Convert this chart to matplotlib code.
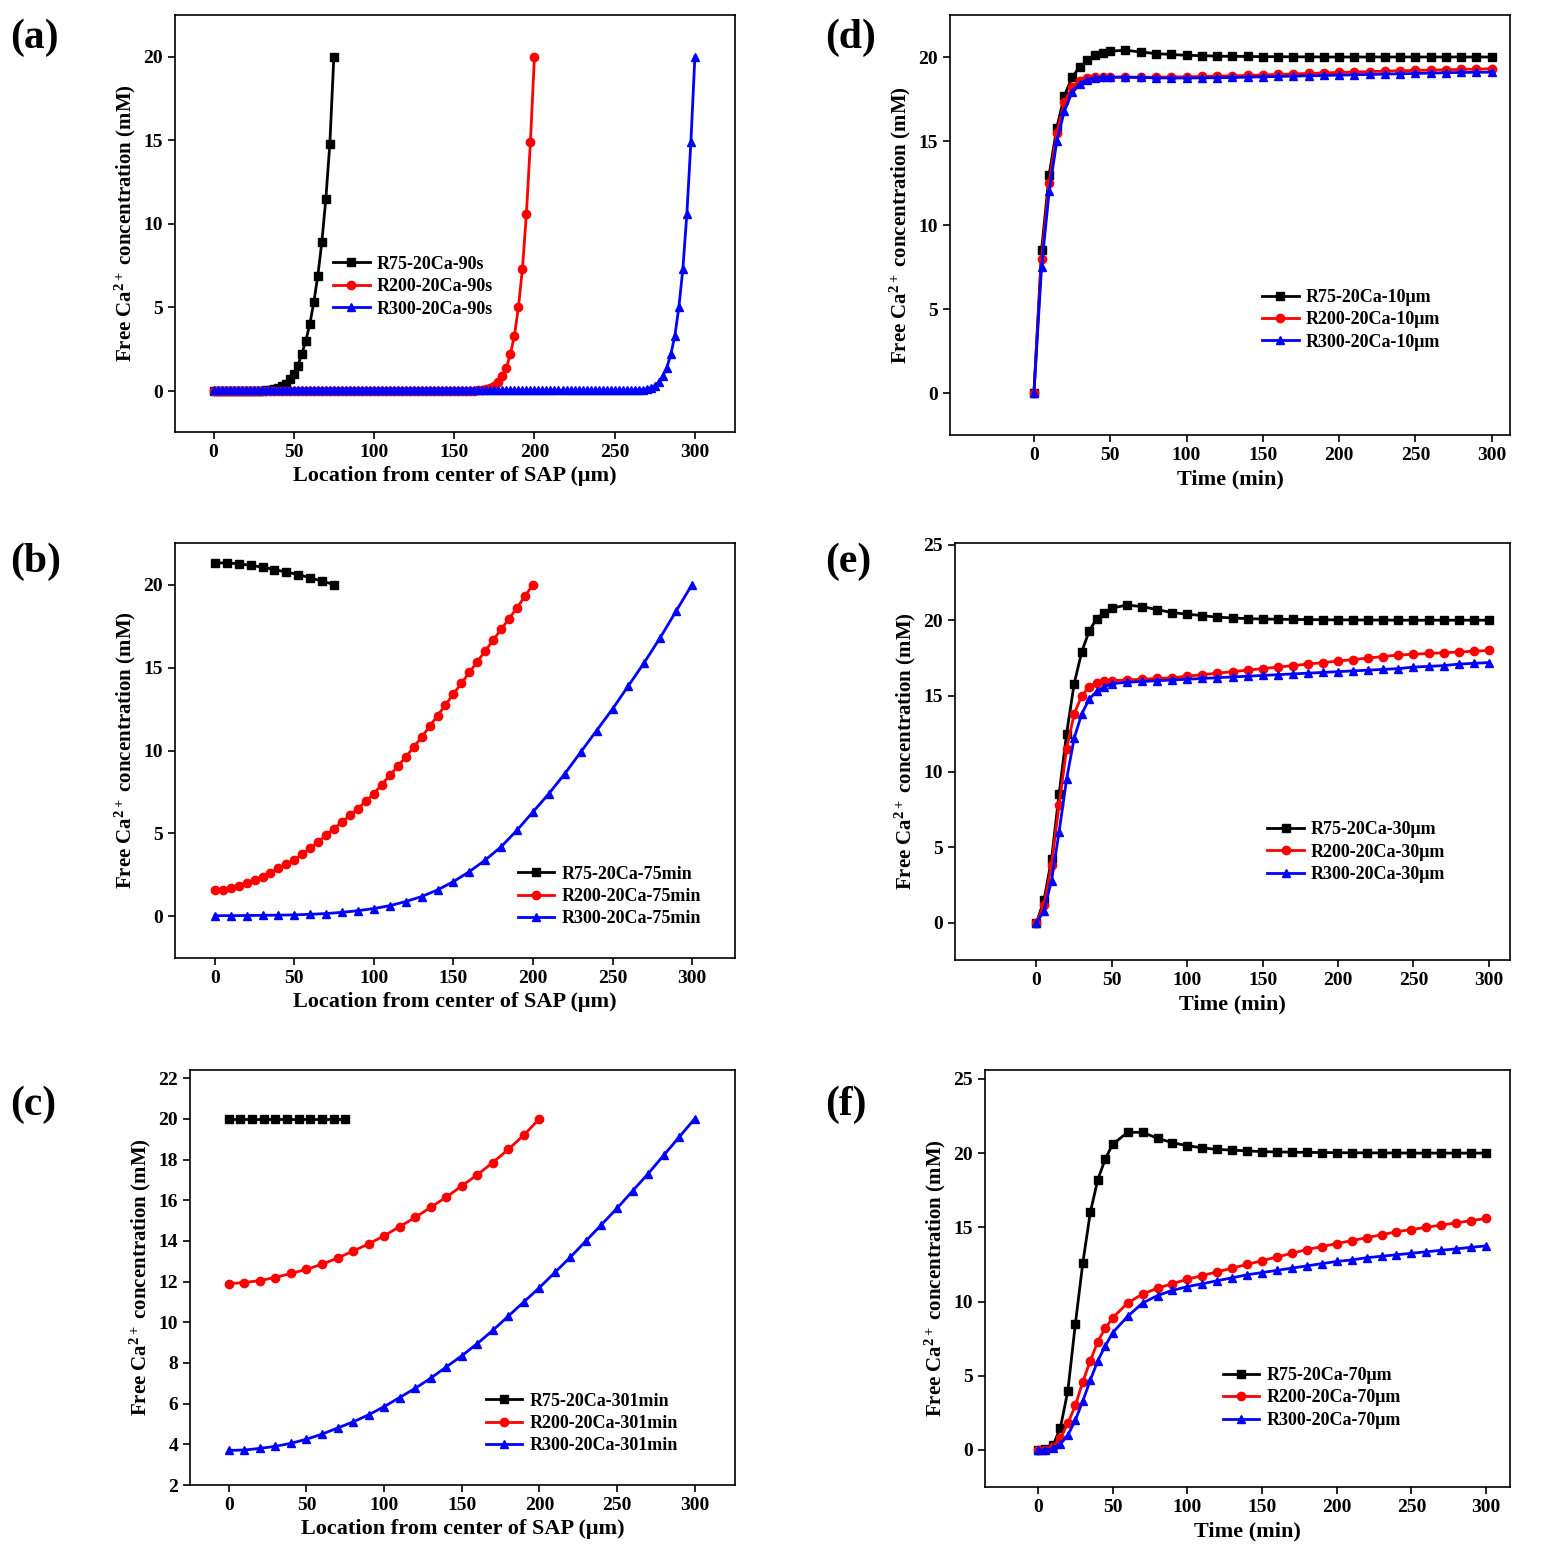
import matplotlib
matplotlib.use('Agg')
import matplotlib.pyplot as plt
import numpy as np

plt.rcParams['font.family'] = ['Liberation Serif', 'DejaVu Serif']
plt.rcParams['font.weight'] = 'bold'
plt.rcParams['mathtext.fontset'] = 'custom'
plt.rcParams['mathtext.rm'] = 'Liberation Serif:bold'
plt.rcParams['mathtext.it'] = 'Liberation Serif:bold'
plt.rcParams['mathtext.bf'] = 'Liberation Serif:bold'

# ---- panel (a): 90 s profiles
a_x75 = np.arange(0, 75.1, 2.5)
a_y75 = [0]*11 + [0.01, 0.02, 0.04, 0.07, 0.12, 0.2, 0.3, 0.45, 0.7, 1.0, 1.5, 2.2,
                  3.0, 4.0, 5.3, 6.9, 8.9, 11.5, 14.8, 20.0]
a_x200 = np.arange(0, 200.1, 2.5)
a_y200 = [0]*64 + [0.01, 0.02, 0.04, 0.07, 0.12, 0.2, 0.33, 0.55, 0.9, 1.4, 2.2, 3.3,
                   5.0, 7.3, 10.6, 14.9, 20.0]
a_x300 = np.arange(0, 300.1, 2.5)
a_y300 = [0.05]*105 + [0.06, 0.07, 0.09, 0.13, 0.2, 0.33, 0.55, 0.9, 1.4, 2.2, 3.3,
                       5.0, 7.3, 10.6, 14.9, 20.0]

# ---- panel (b): 75 min profiles
b_x75 = np.arange(0, 75.1, 7.5)
b_y75 = [21.3, 21.3, 21.25, 21.15, 21.05, 20.9, 20.75, 20.6, 20.4, 20.2, 20.0]
b_x200 = np.arange(0, 200.1, 5)
b_y200 = [1.6, 1.62, 1.7, 1.82, 2.0, 2.2, 2.4, 2.65, 2.9, 3.15, 3.4, 3.75, 4.1, 4.5,
          4.9, 5.3, 5.7, 6.1, 6.5, 6.95, 7.4, 7.95, 8.5, 9.05, 9.6, 10.2, 10.8, 11.45,
          12.1, 12.75, 13.4, 14.05, 14.7, 15.35, 16.0, 16.65, 17.3, 17.95, 18.6, 19.3, 20.0]
b_x300 = np.arange(0, 300.1, 10)
b_y300 = [0.05, 0.05, 0.06, 0.07, 0.08, 0.1, 0.13, 0.18, 0.25, 0.35, 0.48, 0.65, 0.9,
          1.2, 1.6, 2.1, 2.7, 3.4, 4.2, 5.2, 6.3, 7.4, 8.6, 9.9, 11.2, 12.5, 13.9, 15.3,
          16.8, 18.4, 20.0]

# ---- panel (c): 301 min profiles
c_x75 = np.arange(0, 75.1, 7.5)
c_y75 = [20.0]*11
c_x200 = np.arange(0, 200.1, 10)
c_y200 = [11.9, 11.95, 12.05, 12.2, 12.4, 12.6, 12.85, 13.15, 13.5, 13.85, 14.25, 14.7,
          15.15, 15.65, 16.15, 16.7, 17.25, 17.85, 18.5, 19.2, 20.0]
c_x300 = np.arange(0, 300.1, 10)
c_y300 = [3.7, 3.72, 3.8, 3.9, 4.05, 4.25, 4.5, 4.8, 5.1, 5.45, 5.85, 6.3, 6.75, 7.25,
          7.8, 8.35, 8.95, 9.6, 10.3, 11.0, 11.7, 12.45, 13.2, 14.0, 14.8, 15.6, 16.45,
          17.3, 18.2, 19.1, 20.0]

# ---- time series (d)-(f)
t = [0, 5, 10, 15, 20, 25, 30, 35, 40, 45, 50] + list(range(60, 301, 10))

d_y75 = [0, 8.5, 13, 15.8, 17.7, 18.8, 19.4, 19.8, 20.1, 20.25, 20.35,
         20.4, 20.3, 20.2, 20.15, 20.1, 20.08, 20.05, 20.04, 20.03, 20.02, 20.02, 20.01,
         20.01] + [20.0]*12
d_y200 = [0, 8, 12.5, 15.5, 17.3, 18.2, 18.6, 18.75, 18.8, 18.8, 18.8,
          18.8, 18.8, 18.8, 18.81, 18.82, 18.84, 18.86, 18.88, 18.9, 18.93, 18.96, 18.99,
          19.02, 19.05, 19.08, 19.1, 19.13, 19.16, 19.18, 19.2, 19.22, 19.24, 19.26, 19.28, 19.3]
d_y300 = [0, 7.5, 12, 15, 16.8, 17.9, 18.4, 18.65, 18.75, 18.78, 18.8,
          18.8, 18.78, 18.76, 18.75, 18.75, 18.76, 18.77, 18.78, 18.8, 18.82, 18.84, 18.86,
          18.88, 18.9, 18.92, 18.94, 18.96, 18.98, 19.0, 19.02, 19.04, 19.06, 19.08, 19.09, 19.1]

e_y75 = [0, 1.5, 4.2, 8.5, 12.5, 15.8, 17.9, 19.3, 20.1, 20.5, 20.8,
         21.0, 20.9, 20.7, 20.5, 20.4, 20.3, 20.2, 20.15, 20.1, 20.08, 20.06, 20.05, 20.04,
         20.03, 20.02, 20.02, 20.01, 20.01] + [20.0]*7
e_y200 = [0, 1.2, 3.8, 7.8, 11.5, 13.8, 15.0, 15.6, 15.85, 15.95, 16.0,
          16.05, 16.1, 16.15, 16.2, 16.3, 16.4, 16.5, 16.6, 16.7, 16.8, 16.9, 17.0, 17.1,
          17.2, 17.3, 17.4, 17.5, 17.6, 17.7, 17.75, 17.8, 17.85, 17.9, 17.95, 18.0]
e_y300 = [0, 0.8, 2.8, 6.0, 9.5, 12.2, 13.8, 14.8, 15.3, 15.6, 15.8,
          15.9, 15.95, 16.0, 16.05, 16.1, 16.15, 16.2, 16.25, 16.3, 16.35, 16.4, 16.45,
          16.5, 16.55, 16.6, 16.65, 16.7, 16.75, 16.8, 16.9, 16.95, 17.0, 17.1, 17.15, 17.2]

f_y75 = [0, 0.05, 0.3, 1.5, 4.0, 8.5, 12.6, 16.0, 18.2, 19.6, 20.6,
         21.4, 21.4, 21.0, 20.7, 20.5, 20.35, 20.25, 20.2, 20.15, 20.1, 20.08, 20.06, 20.05,
         20.04, 20.03, 20.02, 20.02, 20.01, 20.01] + [20.0]*6
f_y200 = [0, 0, 0.2, 0.8, 1.8, 3.0, 4.6, 6.0, 7.3, 8.2, 8.9,
          9.9, 10.5, 10.9, 11.2, 11.5, 11.75, 12.0, 12.25, 12.5, 12.75, 13.0, 13.25, 13.5,
          13.7, 13.9, 14.1, 14.3, 14.5, 14.7, 14.85, 15.0, 15.15, 15.3, 15.45, 15.6]
f_y300 = [0, 0, 0.1, 0.4, 1.0, 2.0, 3.3, 4.7, 6.0, 7.0, 7.9,
          9.0, 9.9, 10.4, 10.75, 11.0, 11.2, 11.4, 11.6, 11.8, 11.95, 12.1, 12.25, 12.4,
          12.55, 12.7, 12.8, 12.95, 13.05, 13.15, 13.25, 13.35, 13.45, 13.55, 13.65, 13.75]

W, H = 1555, 1561
fig = plt.figure(figsize=(W/100, H/100), dpi=100)

def make_ax(l, r, top, bot):
	return fig.add_axes([l/W, 1 - bot/H, (r-l)/W, (bot-top)/H])

styles = [('k', 's'), ('r', 'o'), ('b', '^')]
ylab = 'Free Ca$^{2+}$ concentration (mM)'

def panel(ax, series, names, xlim, ylim, yticks, xlabel, legpos, tag, tagpos):
	for (x, y), (c, m), n in zip(series, styles, names):
		ax.plot(x, y, color=c, marker=m, markersize=6, linewidth=2, label=n)
	ax.set_xlim(*xlim)
	ax.set_ylim(*ylim)
	ax.set_xticks([0, 50, 100, 150, 200, 250, 300])
	ax.set_yticks(yticks)
	ax.tick_params(labelsize=14, width=1.2, length=5)
	for s in ax.spines.values():
		s.set_linewidth(1.2)
	ax.set_xlabel(xlabel, fontsize=16, fontweight='bold', labelpad=4)
	ax.set_ylabel(ylab, fontsize=15, fontweight='bold')
	ax.legend(loc='upper left', bbox_to_anchor=legpos, frameon=False, fontsize=13,
		handlelength=2.0, handletextpad=0.4, borderaxespad=0, labelspacing=0.3)
	fig.text(tagpos[0]/W, 1 - tagpos[1]/H, tag, fontsize=30, fontweight='bold', va='center')

loc = 'Location from center of SAP (\u03bcm)'
tl = 'Time (min)'

ax = make_ax(175, 735, 15, 432)
panel(ax, [(a_x75, a_y75), (a_x200, a_y200), (a_x300, a_y300)],
	['R75-20Ca-90s', 'R200-20Ca-90s', 'R300-20Ca-90s'],
	(-24, 325), (-2.45, 22.5), [0, 5, 10, 15, 20], loc, (0.27, 0.44), '(a)', (10, 38))

ax = make_ax(175, 735, 543, 958)
panel(ax, [(b_x75, b_y75), (b_x200, b_y200), (b_x300, b_y300)],
	['R75-20Ca-75min', 'R200-20Ca-75min', 'R300-20Ca-75min'],
	(-25, 327), (-2.5, 22.5), [0, 5, 10, 15, 20], loc, (0.6, 0.24), '(b)', (10, 562))

ax = make_ax(190, 735, 1070, 1485)
panel(ax, [(c_x75, c_y75), (c_x200, c_y200), (c_x300, c_y300)],
	['R75-20Ca-301min', 'R200-20Ca-301min', 'R300-20Ca-301min'],
	(-25, 326), (2, 22.4), list(range(2, 23, 2)), loc, (0.53, 0.24), '(c)', (10, 1105))

ax = make_ax(950, 1510, 15, 435)
panel(ax, [(t, d_y75), (t, d_y200), (t, d_y300)],
	['R75-20Ca-10\u03bcm', 'R200-20Ca-10\u03bcm', 'R300-20Ca-10\u03bcm'],
	(-55, 312), (-2.5, 22.5), [0, 5, 10, 15, 20], tl, (0.545, 0.365), '(d)', (825, 38))

ax = make_ax(955, 1510, 543, 960)
panel(ax, [(t, e_y75), (t, e_y200), (t, e_y300)],
	['R75-20Ca-30\u03bcm', 'R200-20Ca-30\u03bcm', 'R300-20Ca-30\u03bcm'],
	(-54, 314), (-2.45, 25.1), [0, 5, 10, 15, 20, 25], tl, (0.55, 0.35), '(e)', (825, 562))

ax = make_ax(985, 1510, 1070, 1487)
panel(ax, [(t, f_y75), (t, f_y200), (t, f_y300)],
	['R75-20Ca-70\u03bcm', 'R200-20Ca-70\u03bcm', 'R300-20Ca-70\u03bcm'],
	(-35.5, 316), (-2.5, 25.6), [0, 5, 10, 15, 20, 25], tl, (0.44, 0.305), '(f)', (825, 1105))

fig.savefig('out.png', dpi=100)
